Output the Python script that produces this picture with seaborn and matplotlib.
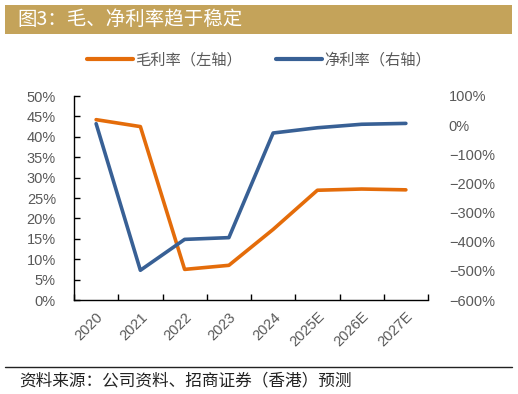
import matplotlib
matplotlib.use("Agg")
import matplotlib.pyplot as plt
import seaborn as sns
import pandas as pd
from matplotlib.ticker import PercentFormatter, FixedLocator
from matplotlib.patches import Rectangle
from matplotlib.lines import Line2D

years = ["2020", "2021", "2022", "2023", "2024", "2025E", "2026E", "2027E"]
gross_margin = [44.2, 42.5, 7.5, 8.5, 17.3, 26.9, 27.2, 27.0]
net_margin = [5, -498, -392, -386, -27, -9, 3, 6]
title = "图3：毛、净利率趋于稳定"
source = "资料来源：公司资料、招商证券（香港）预测"
label_gross = "毛利率（左轴）"
label_net = "净利率（右轴）"

sns.set_style("white")
plt.rcParams['font.family'] = ['Liberation Sans', 'Noto Sans CJK SC', 'DejaVu Sans']

ORANGE = "#E46C0A"
BLUE = "#386095"
GRAY = "#595959"

W, H = 518, 394
fig = plt.figure(figsize=(W / 100, H / 100), dpi=100)

def fx(px):
    return px / W

def fy(py):
    return 1 - py / H

# title bar
fig.patches.append(Rectangle((fx(5), fy(34)), fx(507), 29 / H, transform=fig.transFigure,
                             facecolor="#C4A35A", edgecolor="none", zorder=0))
fig.text(fx(17), fy(19.5), title, color="white", fontsize=14, va="center", ha="left",
         family=['Noto Sans CJK SC', 'DejaVu Sans'])

# bottom rule and source
fig.add_artist(Line2D([fx(5), fx(512)], [fy(367), fy(367)], transform=fig.transFigure,
                      color="#222222", lw=1.0))
fig.text(fx(19), fy(381), source, color="#222222", fontsize=12, va="center", ha="left",
         family=['Noto Sans CJK SC', 'DejaVu Sans'])

ax = fig.add_axes([fx(74), fy(300), fx(428) - fx(74), (300 - 96) / H])
df = pd.DataFrame({"year": years, "gross": gross_margin, "net": net_margin})
sns.lineplot(data=df, x="year", y="gross", ax=ax, color=ORANGE, lw=2.6, sort=False)
ax2 = ax.twinx()
sns.lineplot(data=df, x="year", y="net", ax=ax2, color=BLUE, lw=2.6, sort=False)

ax.set_xlim(-0.5, len(years) - 0.5)
ax.set_ylim(0, 50)
ax.set_yticks(range(0, 51, 5))
ax.yaxis.set_major_formatter(PercentFormatter(decimals=0))
ax2.set_ylim(-600, 100)
ax2.set_yticks(range(-600, 101, 100))
ax2.yaxis.set_major_formatter(PercentFormatter(decimals=0))

for a in (ax, ax2):
    a.set_xlabel("")
    a.set_ylabel("")
    a.grid(False)
    for s in ("top", "right"):
        a.spines[s].set_visible(False)
ax2.spines["left"].set_visible(False)
ax2.spines["bottom"].set_visible(False)
ax.spines["left"].set_color("#000000")
ax.spines["bottom"].set_color("#000000")
ax.spines["left"].set_linewidth(1.0)
ax.spines["bottom"].set_linewidth(1.0)

ax.tick_params(axis="y", direction="in", length=4, width=1, color="black",
               labelsize=10.5, labelcolor=GRAY, pad=13, left=True)
ax2.tick_params(axis="y", length=0, labelsize=10.5, labelcolor=GRAY, pad=15, right=False)

ax.set_xticks(range(len(years)))
ax.set_xticklabels(years, rotation=45, ha="right", rotation_mode="anchor")
ax.tick_params(axis="x", which="major", length=0, labelsize=10.5, labelcolor=GRAY, pad=7)
ax.xaxis.set_minor_locator(FixedLocator([i - 0.5 for i in range(len(years) + 1)]))
ax.tick_params(axis="x", which="minor", direction="in", length=4, width=1, color="black", bottom=True)

handles = [Line2D([], [], color=ORANGE, lw=3, solid_capstyle="round"),
           Line2D([], [], color=BLUE, lw=3, solid_capstyle="round")]
leg = fig.legend(handles, [label_gross, label_net], loc="center", bbox_to_anchor=(0.5, fy(60)),
                 ncol=2, frameon=False, handlelength=3.0, handletextpad=0.15, columnspacing=2.2,
                 prop={"family": ['Noto Sans CJK SC', 'DejaVu Sans'], "size": 11})
for t in leg.get_texts():
    t.set_color(GRAY)

fig.savefig("out.png", dpi=100)
